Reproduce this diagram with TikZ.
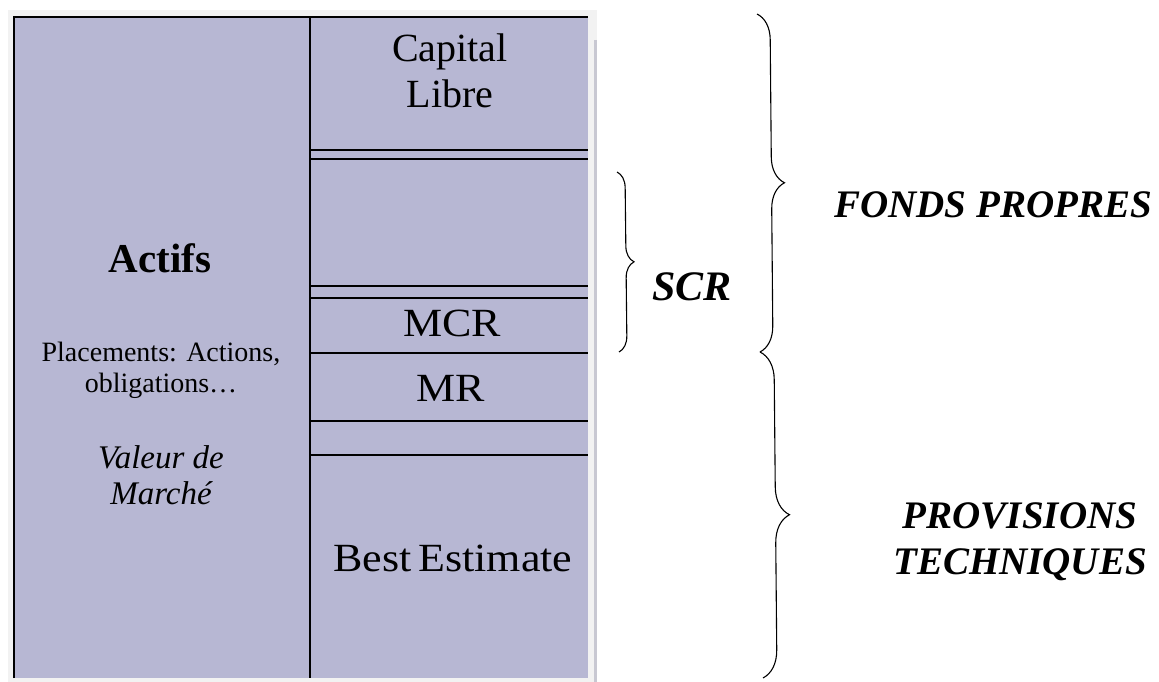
\documentclass[tikz,border=0pt]{standalone}
\usepackage{fontspec}
\setmainfont{Liberation Serif}
\newfontfamily\widefont[FakeStretch=1.1]{Liberation Serif}
\usetikzlibrary{decorations.pathreplacing}
\definecolor{boxfill}{RGB}{183,183,211}
\definecolor{frame}{RGB}{242,242,242}
\definecolor{shadow}{RGB}{200,200,210}
\begin{document}
\begin{tikzpicture}[x=1pt,y=-1pt,
  rule/.style={line width=1.8pt,black},
  lbl/.style={inner sep=0pt,align=center,font=\fontsize{40}{46}\selectfont},
  side/.style={inner sep=0pt,align=center,font=\fontsize{39}{46}\selectfont\bfseries\itshape},
  bracestyle/.style={line width=1.1pt,decorate,decoration={brace,amplitude=#1}}]
\useasboundingbox (0,0) rectangle (1159,682);
% background frame
\fill[frame] (8,10) rectangle (597,682);
\draw[shadow,line width=3pt] (595,40) -- (595,682);
\fill[boxfill] (14,17) rectangle (588,678);
% structure
\draw[rule] (14,678) -- (14,17) -- (588,17);
\draw[rule] (310,17) -- (310,678);
\foreach \yy in {150,159,286,298,353,421,455}
  \draw[rule] (310,\yy) -- (588,\yy);
% texts
\node[lbl] (capital) at (450,71) {Capital\\Libre};
\node[lbl,font=\fontsize{40}{46}\widefont] (mcr) at (452,323) {MCR};
\node[lbl,font=\fontsize{40}{46}\widefont] (mr) at (451,388) {MR};
\node[lbl,font=\fontsize{40}{46}\widefont] (be) at (453,558) {Best\,Estimate};
\node[inner sep=0pt,font=\fontsize{41}{46}\selectfont\bfseries] (actifs) at (160,258) {Actifs};
\node[inner sep=0pt,align=center,font=\fontsize{28}{31}\selectfont] (plac) at (161,370) {Placements: Actions,\\obligations\ldots};
\node[inner sep=0pt,align=center,font=\fontsize{33}{36}\selectfont\itshape] (val) at (161,475) {Valeur de\\Marché};
% braces
\coordinate (fpTop) at (757,14);
\coordinate (fpBot) at (760,352);
\coordinate (ptTop) at (760,352);
\coordinate (ptBot) at (763,678);
\coordinate (scrTop) at (617,172);
\coordinate (scrBot) at (619,352);
\draw[bracestyle=26pt] (fpTop) -- (fpBot);
\draw[bracestyle=28pt] (ptTop) -- (ptBot);
\draw[bracestyle=16pt] (scrTop) -- (scrBot);
\node[side,font=\fontsize{42}{46}\selectfont\bfseries\itshape] (scr) at (692,287) {SCR};
\node[side] (fp) at (993,205) {FONDS PROPRES};
\node[side] (pt) at (1020,542) {PROVISIONS\\TECHNIQUES};
\end{tikzpicture}
\end{document}
